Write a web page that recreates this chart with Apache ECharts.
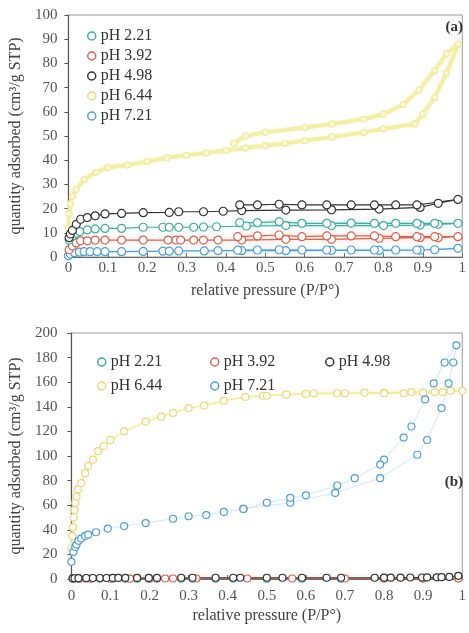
<!DOCTYPE html>
<html>
<head>
<meta charset="utf-8">
<script src="https://cdn.jsdelivr.net/npm/echarts@6/dist/echarts.min.js"></script>
<style>
html,body{margin:0;padding:0;background:#fff;}
#chart{width:469px;height:633px;}
</style>
</head>
<body>
<div id="chart"></div>
<script>
// ---------- tick labels ----------
const xTicks = [0, 0.1, 0.2, 0.3, 0.4, 0.5, 0.6, 0.7, 0.8, 0.9, 1];
const yTicksA = [0, 10, 20, 30, 40, 50, 60, 70, 80, 90, 100];
const yTicksB = [0, 20, 40, 60, 80, 100, 120, 140, 160, 180, 200];
const seriesNames = ['pH 2.21', 'pH 3.92', 'pH 4.98', 'pH 6.44', 'pH 7.21'];

// ---------- panel (a) ----------
const a221P = [0.002, 0.01, 0.02, 0.029, 0.048, 0.068, 0.093, 0.135, 0.19, 0.24, 0.256, 0.28, 0.318, 0.343, 0.376, 0.452, 0.552, 0.668, 0.80, 0.893, 0.939, 0.989,
               0.93, 0.885, 0.831, 0.777, 0.718, 0.656, 0.593, 0.535, 0.48, 0.435];
const a221Q = [7, 8.5, 9.8, 10.5, 11.2, 11.6, 11.8, 11.8, 12.3, 12.3, 12.3, 12.3, 12.3, 12.4, 12.5, 12.8, 13.0, 13.0, 13.0, 13.2, 13.5, 13.9,
               13.9, 13.9, 13.9, 13.9, 14.0, 13.9, 13.9, 14.6, 14.2, 14.2];
const a392P = [0.002, 0.01, 0.02, 0.031, 0.048, 0.068, 0.093, 0.135, 0.19, 0.253, 0.273, 0.285, 0.318, 0.343, 0.38, 0.44, 0.552, 0.668, 0.789, 0.893, 0.939, 0.989,
               0.93, 0.885, 0.831, 0.777, 0.718, 0.656, 0.593, 0.535, 0.48, 0.43];
const a392Q = [3, 4.5, 5.8, 6.7, 6.7, 7.0, 7.0, 7.0, 7.0, 7.0, 7.0, 7.0, 7.0, 7.0, 7.0, 7.0, 7.3, 7.3, 7.7, 8.0, 8.0, 8.4,
               8.4, 8.4, 8.4, 8.7, 8.7, 8.7, 8.4, 9.1, 8.7, 8.4];
const a498P = [0.002, 0.005, 0.01, 0.02, 0.031, 0.048, 0.068, 0.093, 0.135, 0.19, 0.256, 0.28, 0.343, 0.393, 0.44, 0.552, 0.668, 0.789, 0.893, 0.939, 0.989,
               0.885, 0.831, 0.777, 0.718, 0.656, 0.593, 0.535, 0.48, 0.435];
const a498Q = [8, 9.5, 11, 13.5, 15.6, 16.3, 17, 17.8, 18, 18.3, 18.4, 18.7, 18.7, 18.9, 19.2, 19.4, 19.5, 19.8, 20.5, 22.2, 23.8,
               21.5, 21.5, 21.5, 21.5, 21.5, 21.5, 21.8, 21.5, 21.5];
const a644P = [0.0, 0.002, 0.005, 0.01, 0.02, 0.04, 0.07, 0.1, 0.15, 0.2, 0.25, 0.3, 0.35, 0.4, 0.45, 0.5, 0.55, 0.6, 0.67, 0.75, 0.8, 0.88, 0.9, 0.93, 0.96, 0.99,
               0.96, 0.93, 0.89, 0.85, 0.8, 0.75, 0.67, 0.6, 0.5, 0.45, 0.42];
const a644Q = [12, 18, 22, 25, 28, 32, 35, 37, 38, 39.5, 41, 42, 43, 44, 45, 46, 47, 48, 49.6, 51.5, 53, 55, 59, 66, 76, 88,
               84, 77, 69, 63, 59, 57, 55, 53.5, 51.5, 50, 47];
const a721P = [0.0, 0.005, 0.015, 0.028, 0.04, 0.055, 0.073, 0.093, 0.135, 0.19, 0.24, 0.256, 0.28, 0.345, 0.38, 0.44, 0.552, 0.668, 0.789, 0.893, 0.989,
               0.93, 0.885, 0.831, 0.777, 0.718, 0.656, 0.593, 0.535, 0.48, 0.43];
const a721Q = [0.5, 1.2, 1.8, 2.0, 2.2, 2.2, 2.2, 2.2, 2.2, 2.3, 2.4, 2.4, 2.5, 2.5, 2.6, 2.6, 2.6, 2.7, 2.7, 2.8, 3.6,
               3.0, 2.9, 2.9, 2.9, 2.9, 2.9, 2.9, 3.0, 2.9, 2.8];

// ---------- panel (b) ----------
const b221P = [0.005, 0.018, 0.038, 0.073, 0.106, 0.138, 0.168, 0.198, 0.219, 0.281, 0.31, 0.369, 0.414, 0.5, 0.59, 0.69, 0.8, 0.9, 0.99];
const b221Q = [0.2, 0.3, 0.3, 0.3, 0.3, 0.3, 0.3, 0.3, 0.3, 0.3, 0.3, 0.3, 0.3, 0.3, 0.3, 0.3, 0.4, 0.4, 0.5];
const b392P = [0.005, 0.02, 0.05, 0.1, 0.15, 0.2, 0.24, 0.26, 0.32, 0.45, 0.565, 0.7, 0.8, 0.9, 0.99];
const b392Q = [0.2, 0.3, 0.3, 0.3, 0.3, 0.3, 0.4, 0.4, 0.4, 0.4, 0.4, 0.4, 0.4, 0.5, 0.5];
const b498P = [0.003, 0.008, 0.018, 0.038, 0.055, 0.073, 0.09, 0.106, 0.12, 0.138, 0.168, 0.198, 0.219, 0.281, 0.31, 0.369, 0.414, 0.432, 0.5, 0.54, 0.59, 0.653, 0.69,
               0.776, 0.8, 0.817, 0.842, 0.867, 0.897, 0.91, 0.935, 0.947, 0.967, 0.99];
const b498Q = [0.5, 0.6, 0.7, 0.8, 0.8, 0.8, 0.8, 0.9, 0.9, 0.9, 0.9, 0.9, 0.9, 1, 1, 1, 1, 1, 1, 1, 1, 1, 1,
               1, 1.1, 1.1, 1.1, 1.2, 1.2, 1.3, 1.4, 1.5, 1.7, 2.6];
const b644P = [0.0, 0.002, 0.004, 0.006, 0.008, 0.01, 0.013, 0.017, 0.025, 0.035, 0.043, 0.055, 0.068, 0.083, 0.1, 0.135, 0.19, 0.23, 0.26, 0.3, 0.34, 0.39, 0.445, 0.49, 0.55, 0.62, 0.68, 0.75, 0.8, 0.87, 0.93, 0.97, 1.0,
               0.95, 0.9, 0.85, 0.8, 0.7, 0.6, 0.55, 0.5];
const b644Q = [25, 35, 42, 50, 56, 62, 67, 73, 78, 86, 92, 97, 104, 108, 113, 120, 128, 132, 135, 139, 141, 145, 148, 149, 150, 151, 151, 151.5, 151.5, 152, 152, 153, 153,
               152, 151.5, 151, 151, 151, 150.5, 150, 149];
const b721P = [0.0, 0.005, 0.01, 0.013, 0.018, 0.025, 0.035, 0.043, 0.063, 0.093, 0.135, 0.19, 0.26, 0.3, 0.345, 0.39, 0.44, 0.56, 0.675, 0.79, 0.885, 0.91, 0.947, 0.965, 0.977, 0.985,
               0.955, 0.927, 0.905, 0.87, 0.85, 0.8, 0.79, 0.725, 0.68, 0.6, 0.56, 0.5, 0.44];
const b721Q = [14, 22, 26, 28, 31, 33, 35, 36, 38, 41, 43, 45.5, 49, 51, 52, 54.5, 57, 62, 70, 82, 101, 113, 139, 159, 176, 190,
               176, 159, 146, 124, 115, 97, 93, 82, 76, 68, 66, 62, 57];

// ---------- styles ----------
const colors = {
  'pH 2.21': {mk: '#3fae9a', line: '#3fae9a', glow: '#a8e6dc'},
  'pH 3.92': {mk: '#e0604f', line: '#e0604f', glow: '#f8c0a8'},
  'pH 4.98': {mk: '#333333', line: '#333333', glow: 'rgba(0,0,0,0)'},
  'pH 6.44': {mk: '#efd77a', line: '#f3ee9e', glow: '#f7f3c0'},
  'pH 7.21': {mk: '#4a9ee0', line: '#4a9ee0', glow: '#b8dcf6'}
};
const zip = (P, Q) => P.map((p, i) => [p, Q[i]]);

function mkSeries(name, P, Q, idx, size, lw, yellowWide) {
  const c = colors[name];
  return {
    name: name, type: 'line', xAxisIndex: idx, yAxisIndex: idx,
    data: zip(P, Q), symbol: 'circle', symbolSize: size, smooth: false,
    animation: false,
    lineStyle: {color: c.line, width: yellowWide ? 4 : lw, shadowColor: c.glow, shadowBlur: yellowWide ? 2 : 6, opacity: yellowWide ? 0.9 : 1},
    itemStyle: {color: yellowWide ? '#fbf8d8' : '#fff', borderColor: yellowWide ? '#f1ea98' : c.mk, borderWidth: 1.2},
    emphasis: {disabled: true}
  };
}

const series = [
  mkSeries('pH 6.44', a644P, a644Q, 0, 6, 1, true),
  mkSeries('pH 7.21', a721P, a721Q, 0, 8, 1.2),
  mkSeries('pH 3.92', a392P, a392Q, 0, 8, 1.2),
  mkSeries('pH 2.21', a221P, a221Q, 0, 8, 1.2),
  mkSeries('pH 4.98', a498P, a498Q, 0, 8, 1.2),
  mkSeries('pH 2.21', b221P, b221Q, 1, 7, 1),
  mkSeries('pH 3.92', b392P, b392Q, 1, 7, 1),
  mkSeries('pH 4.98', b498P, b498Q, 1, 7, 1),
  mkSeries('pH 6.44', b644P, b644Q, 1, 7, 1),
  mkSeries('pH 7.21', b721P, b721Q, 1, 7, 0.8)
];
series[8].lineStyle = {color: '#f3ee9e', width: 1.5, shadowColor: '#f7f3c0', shadowBlur: 4};
series[9].lineStyle = {color: '#9cc9ec', width: 0.8, type: 'dotted', shadowColor: '#cfe8fa', shadowBlur: 5};

const FONT = 'Liberation Serif';
const legendItem = n => ({name: n, icon: 'circle',
  itemStyle: {color: '#fff', borderColor: colors[n].mk, borderWidth: 1.5}});

const xFmt = v => (v === 0 ? '0' : v === 1 ? '1' : v.toFixed(1));

function xAxis(idx, labelMargin, nameGap) {
  return {
    type: 'value', gridIndex: idx, min: 0, max: 1, interval: 0.1,
    name: 'relative pressure (P/P°)', nameLocation: 'middle', nameGap: nameGap,
    nameTextStyle: {fontFamily: FONT, fontSize: 16, color: '#444', verticalAlign: 'middle'},
    axisLine: {lineStyle: {color: '#666', width: 1}},
    axisTick: {inside: true, length: 4, lineStyle: {color: '#666'}},
    axisLabel: {fontFamily: FONT, fontSize: 15, color: '#555', margin: labelMargin, formatter: xFmt},
    splitLine: {show: false}
  };
}
function yAxis(idx, max, interval, labelMargin, nameGap) {
  return {
    type: 'value', gridIndex: idx, min: 0, max: max, interval: interval,
    name: 'quantity adsorbed (cm³/g STP)', nameLocation: 'middle', nameGap: nameGap,
    nameTextStyle: {fontFamily: FONT, fontSize: 16, color: '#444', verticalAlign: 'middle'},
    axisLine: {show: true, lineStyle: {color: '#555', width: 1.2}},
    axisTick: {show: true, inside: false, length: 4, lineStyle: {color: '#555'}},
    axisLabel: {fontFamily: FONT, fontSize: 15, color: '#555', margin: labelMargin},
    splitLine: {show: false}
  };
}

const option = {
  backgroundColor: '#fff',
  animation: false,
  grid: [
    {left: 66, top: 15, width: 400, height: 242, show: true, borderColor: '#999', borderWidth: 1, backgroundColor: 'transparent'},
    {left: 68, top: 333, width: 398, height: 246, show: true, borderColor: '#999', borderWidth: 1, backgroundColor: 'transparent'}
  ],
  xAxis: [xAxis(0, 4, 34), xAxis(1, 10, 37)],
  yAxis: [yAxis(0, 100, 10, 11, 49), yAxis(1, 200, 20, 14, 51)],
  legend: [
    {orient: 'vertical', left: 82, top: 23, itemGap: 4, itemWidth: 8, itemHeight: 8,
     selectedMode: false, textStyle: {fontFamily: FONT, fontSize: 16, color: '#333'},
     data: seriesNames.map(legendItem)},
    {left: 92, top: 349, itemWidth: 8, itemHeight: 8, selectedMode: false,
     textStyle: {fontFamily: FONT, fontSize: 16, color: '#333'}, data: [legendItem('pH 2.21')]},
    {left: 205, top: 349, itemWidth: 8, itemHeight: 8, selectedMode: false,
     textStyle: {fontFamily: FONT, fontSize: 16, color: '#333'}, data: [legendItem('pH 3.92')]},
    {left: 320, top: 349, itemWidth: 8, itemHeight: 8, selectedMode: false,
     textStyle: {fontFamily: FONT, fontSize: 16, color: '#333'}, data: [legendItem('pH 4.98')]},
    {left: 92, top: 373, itemWidth: 8, itemHeight: 8, selectedMode: false,
     textStyle: {fontFamily: FONT, fontSize: 16, color: '#333'}, data: [legendItem('pH 6.44')]},
    {left: 205, top: 373, itemWidth: 8, itemHeight: 8, selectedMode: false,
     textStyle: {fontFamily: FONT, fontSize: 16, color: '#333'}, data: [legendItem('pH 7.21')]}
  ],
  graphic: [
    {type: 'text', right: 6, top: 20, style: {text: '(a)', fontFamily: FONT, fontSize: 15, fontWeight: 'bold', fill: '#333'}},
    {type: 'text', right: 6, top: 475, style: {text: '(b)', fontFamily: FONT, fontSize: 15, fontWeight: 'bold', fill: '#333'}}
  ],
  series: series
};

const chart = echarts.init(document.getElementById('chart'), null, {renderer: 'canvas'});
chart.setOption(option);
</script>
</body>
</html>
